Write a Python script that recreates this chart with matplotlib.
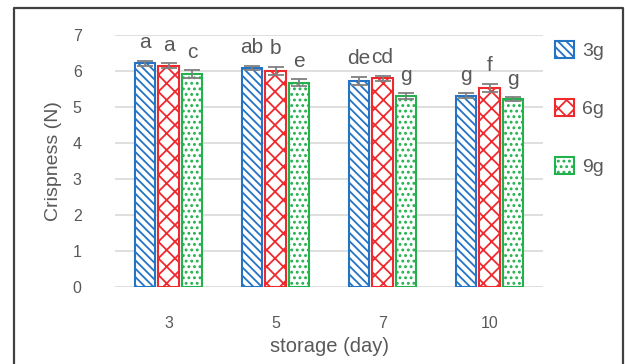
import matplotlib.pyplot as plt
import numpy as np
from matplotlib.lines import Line2D

days = ['3', '5', '7', '10']
series = ['3g', '6g', '9g']
vals_3g = [6.22, 6.09, 5.73, 5.31]
vals_6g = [6.15, 6.01, 5.80, 5.54]
vals_9g = [5.91, 5.68, 5.31, 5.22]
err_3g = [0.07, 0.06, 0.11, 0.07]
err_6g = [0.07, 0.11, 0.07, 0.11]
err_9g = [0.11, 0.10, 0.08, 0.06]
let_3g = ['a', 'ab', 'de', 'g']
let_6g = ['a', 'b', 'cd', 'f']
let_9g = ['c', 'e', 'g', 'g']

colors = ['#2473C4', '#EE2A2E', '#22B14C']
hatches = ['\\\\\\\\', 'xx', '...']
txt = '#595959'

plt.rcParams['font.family'] = ['Liberation Sans', 'DejaVu Sans']
plt.rcParams['hatch.linewidth'] = 1.3

fig = plt.figure(figsize=(6.26, 3.64), dpi=100)
ax = fig.add_axes([115 / 626, 77 / 364, 428 / 626, 252 / 364])

x = np.arange(len(days))
w = 0.187
step = 0.22
allv = [vals_3g, vals_6g, vals_9g]
alle = [err_3g, err_6g, err_9g]
alll = [let_3g, let_6g, let_9g]
handles = []
for i in range(3):
    pos = x + (i - 1) * step
    b = ax.bar(pos, allv[i], w, color='white', edgecolor=colors[i],
               hatch=hatches[i], linewidth=1.5, zorder=3, label=series[i])
    ax.errorbar(pos, allv[i], yerr=alle[i], fmt='none', ecolor='#7F7F7F',
                elinewidth=1.3, capsize=6, capthick=1.3, zorder=4)
    for p, v, e, l in zip(pos, allv[i], alle[i], alll[i]):
        ax.annotate(l, (p, v + e), xytext=(0, 6), textcoords='offset points',
                    ha='center', va='bottom', fontsize=15, color=txt)
    handles.append(b)

ax.set_xlim(-0.5, 3.5)
ax.set_ylim(0, 7)
ax.set_yticks(range(8))
ax.set_xticks(x)
ax.set_xticklabels(days)
ax.yaxis.grid(True, color='#D9D9D9', linewidth=1.2, zorder=0)
ax.set_axisbelow(True)
for s in ax.spines.values():
    s.set_visible(False)
ax.tick_params(length=0, labelsize=11.5, colors=txt)
ax.tick_params(axis='x', pad=21)
ax.tick_params(axis='y', pad=24)
ax.set_xlabel('storage (day)', fontsize=14.5, color=txt, labelpad=4)
ax.set_ylabel('Crispness (N)', fontsize=14, color=txt, labelpad=8)

fig.legend(handles=handles, labels=series, loc='upper left',
           bbox_to_anchor=(537 / 626, 1 - 23 / 364), frameon=False,
           fontsize=14, labelcolor=txt, handlelength=1.0, handleheight=1.0,
           handletextpad=0.4, labelspacing=2.0)

fig.add_artist(Line2D([14 / 626, 14 / 626, 623 / 626, 623 / 626],
                      [-0.05, 1 - 8 / 364, 1 - 8 / 364, -0.05],
                      transform=fig.transFigure, color='#404040', linewidth=1.6))

fig.savefig('out.png', dpi=100)
